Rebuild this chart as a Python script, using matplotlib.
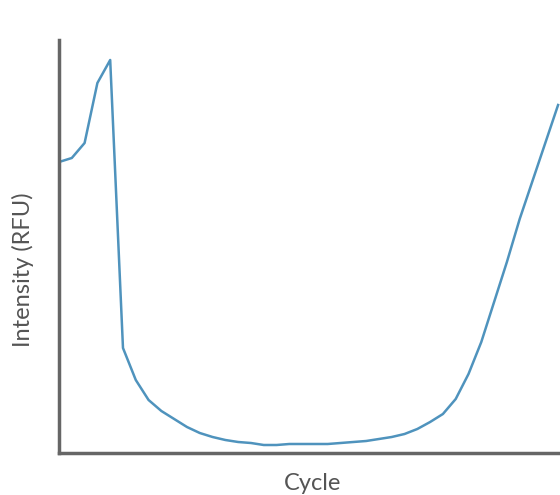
import matplotlib.pyplot as plt
import numpy as np

# qPCR-style amplification trace
cycles = np.arange(1, 41)
intensity = [291, 295, 310, 370, 393, 105, 73, 53, 42, 34,
             26, 20, 16, 13, 11, 10, 8, 8, 9, 9,
             9, 9, 10, 11, 12, 14, 16, 19, 24, 31,
             39, 54, 79, 111, 151, 191, 234, 272, 310, 348]

LINE_COLOR = '#4f93bd'
SPINE_COLOR = '#666666'
TEXT_COLOR = '#555555'

plt.rcParams['font.family'] = ['Lato', 'DejaVu Sans']

fig = plt.figure(figsize=(5.6, 4.95), dpi=100)
ax = fig.add_axes([59 / 560, 42 / 495, 1 - 59 / 560, 413 / 495])

ax.plot(cycles, intensity, color=LINE_COLOR, linewidth=1.8, solid_joinstyle='round')

ax.set_xlim(1, 40.15)
ax.set_ylim(0, 413)
ax.set_xticks([])
ax.set_yticks([])

for side in ('top', 'right'):
    ax.spines[side].set_visible(False)
for side in ('left', 'bottom'):
    ax.spines[side].set_color(SPINE_COLOR)
    ax.spines[side].set_linewidth(2.5)

# axis titles placed where they sit in the reference
fig.text(313 / 560, 1 - 483 / 495, 'Cycle', fontsize=17, color=TEXT_COLOR,
         ha='center', va='center')
fig.text(23 / 560, 1 - 270 / 495, 'Intensity (RFU)', fontsize=17, color=TEXT_COLOR,
         ha='center', va='center', rotation=90)

fig.savefig('out.png', dpi=100, facecolor='white')
